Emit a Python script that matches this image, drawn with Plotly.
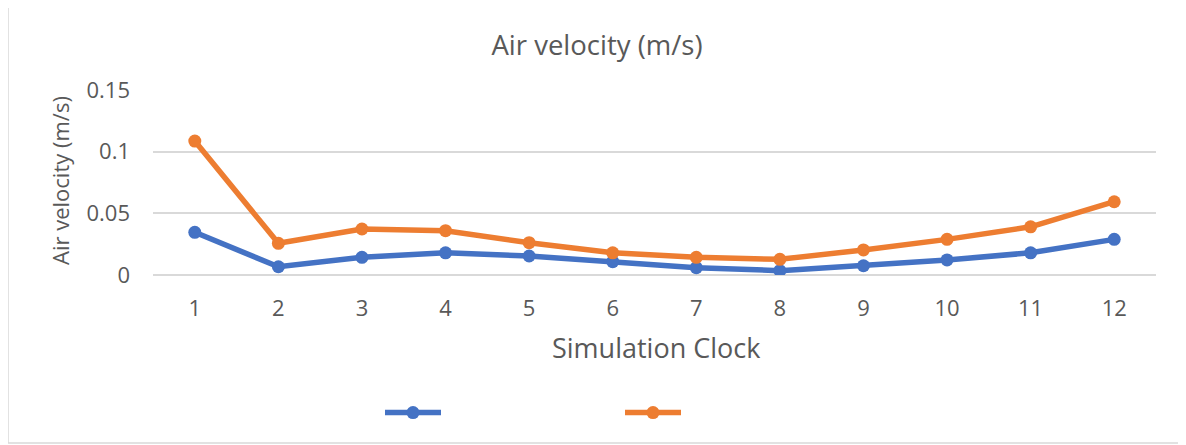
import plotly.graph_objects as go

clock = [str(i) for i in range(1, 13)]
series_a = [0.0346, 0.0067, 0.0143, 0.0180, 0.0154, 0.0108, 0.0059, 0.0035, 0.0075, 0.0122, 0.0180, 0.0289]
series_b = [0.1086, 0.0257, 0.0373, 0.0359, 0.0262, 0.0180, 0.0143, 0.0127, 0.0203, 0.0289, 0.0391, 0.0594]
y_ticks = [0, 0.05, 0.1, 0.15]
y_tick_text = ["0", "0.05", "0.1", "0.15"]

BLUE = "#4472C4"
ORANGE = "#ED7D31"
TXT = "#595959"
FONT = "Open Sans"

# page body has an 8px margin; work in screen pixels and convert
OFF = 8
W, H = 1186 - OFF, 445 - OFF
PL, PR, PT, PB = 153, 1156, 90, 275   # plot area in screen px
L = PL - OFF
R = W - (PR - OFF)
T = PT - OFF
B = H - (PB - OFF)
pw, ph = PR - PL, PB - PT


def px_x(x):
    return (x - PL) / pw


def px_y(y):
    return (PB - y) / ph


fig = go.Figure()
fig.add_trace(go.Scatter(x=clock, y=series_a, mode="lines+markers", name=" ",
                         line=dict(color=BLUE, width=5.5),
                         marker=dict(color=BLUE, size=13)))
fig.add_trace(go.Scatter(x=clock, y=series_b, mode="lines+markers", name=" ",
                         line=dict(color=ORANGE, width=5.5),
                         marker=dict(color=ORANGE, size=13)))

fig.update_layout(
    width=W, height=H,
    margin=dict(l=L, r=R, t=T, b=B),
    paper_bgcolor="white", plot_bgcolor="white",
    font=dict(family=FONT, color=TXT),
    title=dict(text="Air velocity (m/s)", x=(597 - OFF) / W, xanchor="center",
               y=1 - (45 - OFF) / H, yanchor="middle", font=dict(size=27.5, color=TXT)),
    showlegend=True,
    legend=dict(orientation="h", x=px_x(380), xanchor="left", y=px_y(413), yanchor="middle",
                entrywidth=169, entrywidthmode="pixels", itemwidth=56,
                font=dict(size=14), bgcolor="rgba(0,0,0,0)"),
    shapes=[dict(type="rect", xref="paper", yref="paper",
                 x0=px_x(8), x1=px_x(1184), y0=px_y(443), y1=px_y(6),
                 line=dict(color="#D9D9D9", width=1.5), fillcolor="rgba(0,0,0,0)", layer="below")],
    annotations=[
        dict(text="Simulation Clock", xref="paper", yref="paper", x=px_x(656), y=px_y(347),
             xanchor="center", yanchor="middle", showarrow=False, font=dict(size=27, color=TXT)),
        dict(text="Air velocity (m/s)", xref="paper", yref="paper", x=px_x(60), y=px_y(181),
             xanchor="center", yanchor="middle", showarrow=False, textangle=-90,
             font=dict(size=22, color=TXT)),
    ],
)
fig.update_xaxes(type="category", range=[-0.5, len(clock) - 0.5],
                 showgrid=False, showline=False, zeroline=False,
                 ticks="", tickfont=dict(size=22, color=TXT), ticklabelstandoff=18)
fig.update_yaxes(range=[0, 0.15], tickvals=y_ticks, ticktext=y_tick_text,
                 showgrid=True, gridcolor="#D9D9D9", gridwidth=1.5,
                 zeroline=True, zerolinecolor="#D9D9D9", zerolinewidth=1.5,
                 showline=False, ticks="", tickfont=dict(size=22, color=TXT), ticklabelstandoff=22)

fig.write_html("out.html")
